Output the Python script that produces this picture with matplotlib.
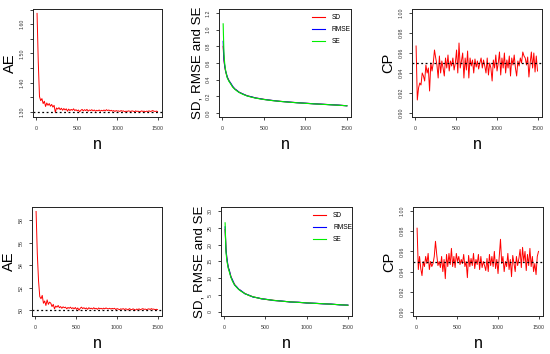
import numpy as np
import matplotlib
matplotlib.use("Agg")
import matplotlib.pyplot as plt
from matplotlib.ticker import FixedLocator, MultipleLocator

plt.rcParams['font.family'] = ['Liberation Sans Narrow', 'Liberation Sans', 'DejaVu Sans']

# ---------------- data ----------------
n = np.arange(10, 1501, 15)

ae_top = [1.637, 1.470, 1.352, 1.338, 1.345, 1.328, 1.336, 1.318, 1.330, 1.322,
          1.328, 1.319, 1.325, 1.316, 1.322, 1.298, 1.313, 1.309, 1.314, 1.307,
          1.312, 1.305, 1.311, 1.306, 1.310, 1.302, 1.309, 1.304, 1.308, 1.305,
          1.310, 1.304, 1.307, 1.303, 1.306, 1.300, 1.305, 1.308, 1.303, 1.307,
          1.304, 1.308, 1.302, 1.306, 1.304, 1.307, 1.303, 1.306, 1.302, 1.305,
          1.303, 1.306, 1.302, 1.305, 1.303, 1.306, 1.303, 1.307, 1.304, 1.306,
          1.303, 1.305, 1.302, 1.304, 1.301, 1.304, 1.302, 1.303, 1.301, 1.304,
          1.302, 1.303, 1.300, 1.302, 1.301, 1.303, 1.302, 1.301, 1.303, 1.302,
          1.300, 1.303, 1.301, 1.302, 1.300, 1.301, 1.303, 1.301, 1.302, 1.300,
          1.302, 1.301, 1.303, 1.301, 1.302, 1.304, 1.302, 1.301, 1.302, 1.301]

cp_top = [0.967, 0.913, 0.925, 0.930, 0.928, 0.940, 0.937, 0.932, 0.948, 0.940,
          0.945, 0.922, 0.950, 0.942, 0.950, 0.963, 0.955, 0.948, 0.935, 0.957,
          0.940, 0.952, 0.945, 0.937, 0.955, 0.945, 0.958, 0.942, 0.952, 0.947,
          0.955, 0.943, 0.950, 0.963, 0.940, 0.970, 0.945, 0.952, 0.960, 0.935,
          0.955, 0.943, 0.962, 0.935, 0.955, 0.947, 0.953, 0.940, 0.954, 0.946,
          0.952, 0.944, 0.950, 0.955, 0.945, 0.953, 0.947, 0.940, 0.955, 0.938,
          0.950, 0.945, 0.932, 0.953, 0.945, 0.958, 0.942, 0.950, 0.961, 0.938,
          0.955, 0.945, 0.960, 0.940, 0.953, 0.945, 0.957, 0.937, 0.955, 0.948,
          0.958, 0.945, 0.937, 0.952, 0.947, 0.955, 0.950, 0.961, 0.957, 0.955,
          0.948, 0.956, 0.936, 0.950, 0.961, 0.945, 0.960, 0.941, 0.957, 0.942]

ae_bot = [58.8, 55.0, 52.6, 51.2, 51.0, 51.3, 50.6, 50.8, 50.4, 50.9,
          50.5, 50.7, 50.6, 50.3, 50.5, 50.1, 50.35, 50.25, 50.4, 50.2,
          50.3, 50.15, 50.28, 50.2, 50.25, 50.1, 50.22, 50.15, 50.25, 50.12,
          50.2, 50.1, 50.22, 50.05, 50.18, 49.98, 50.15, 50.25, 50.12, 50.2,
          50.1, 50.18, 50.05, 50.2, 50.12, 50.16, 50.08, 50.2, 50.1, 50.15,
          50.05, 50.18, 50.1, 50.15, 50.08, 50.16, 50.1, 50.18, 50.12, 50.1,
          50.15, 50.08, 50.14, 50.1, 50.15, 50.03, 50.12, 50.08, 50.02, 50.1,
          50.06, 50.12, 50.04, 50.1, 50.07, 50.0, 50.12, 50.06, 50.02, 50.1,
          50.05, 49.98, 50.08, 50.04, 50.1, 50.02, 50.07, 50.12, 50.05, 50.08,
          50.03, 50.07, 50.1, 50.04, 50.12, 50.06, 50.08, 50.02, 50.06, 50.03]

cp_bot = [0.983, 0.942, 0.955, 0.943, 0.936, 0.950, 0.945, 0.955, 0.948, 0.958,
          0.942, 0.950, 0.945, 0.948, 0.955, 0.970, 0.957, 0.946, 0.950, 0.944,
          0.955, 0.940, 0.952, 0.933, 0.957, 0.945, 0.958, 0.947, 0.963, 0.945,
          0.955, 0.944, 0.958, 0.950, 0.955, 0.947, 0.952, 0.948, 0.957, 0.945,
          0.950, 0.934, 0.956, 0.945, 0.953, 0.946, 0.958, 0.943, 0.952, 0.947,
          0.957, 0.942, 0.955, 0.944, 0.950, 0.946, 0.941, 0.953, 0.940, 0.957,
          0.946, 0.955, 0.945, 0.960, 0.943, 0.952, 0.938, 0.955, 0.972, 0.948,
          0.955, 0.940, 0.950, 0.945, 0.958, 0.942, 0.952, 0.935, 0.956, 0.948,
          0.940, 0.955, 0.946, 0.953, 0.962, 0.944, 0.964, 0.950, 0.960, 0.941,
          0.957, 0.946, 0.963, 0.945, 0.955, 0.940, 0.948, 0.937, 0.955, 0.960]

n_s = [10, 20, 30, 40, 50, 60, 80, 100, 125, 150, 175, 200, 250, 300, 350, 400,
       450, 500, 600, 700, 800, 900, 1000, 1100, 1200, 1300, 1400, 1500]

sd_top = [0.80, 0.63, 0.55, 0.50, 0.46, 0.43, 0.39, 0.355, 0.315, 0.29, 0.27, 0.252,
          0.226, 0.207, 0.193, 0.181, 0.172, 0.164, 0.150, 0.140, 0.131, 0.124,
          0.117, 0.111, 0.105, 0.100, 0.094, 0.087]
rmse_top = [0.86, 0.64, 0.56, 0.50, 0.47, 0.43, 0.385, 0.36, 0.32, 0.288, 0.272, 0.249,
            0.228, 0.205, 0.195, 0.180, 0.173, 0.163, 0.151, 0.139, 0.132, 0.123,
            0.118, 0.110, 0.106, 0.099, 0.095, 0.086]
se_top = [1.07, 0.70, 0.58, 0.51, 0.46, 0.42, 0.38, 0.35, 0.31, 0.285, 0.265, 0.248,
          0.223, 0.204, 0.190, 0.179, 0.170, 0.162, 0.149, 0.139, 0.130, 0.123,
          0.116, 0.110, 0.104, 0.099, 0.093, 0.087]

sd_bot = [24.5, 19.0, 16.0, 14.3, 13.2, 12.3, 10.6, 9.3, 8.2, 7.4, 6.8, 6.3, 5.5,
          4.9, 4.5, 4.2, 3.95, 3.75, 3.45, 3.2, 3.0, 2.85, 2.7, 2.55, 2.45, 2.3, 2.15, 2.0]
rmse_bot = [25.3, 18.5, 16.3, 14.5, 13.0, 12.5, 10.4, 9.5, 8.0, 7.5, 6.7, 6.4, 5.4,
            5.0, 4.4, 4.25, 3.9, 3.8, 3.4, 3.25, 2.95, 2.9, 2.65, 2.6, 2.4, 2.35, 2.1, 2.05]
se_bot = [26.5, 18.0, 15.5, 14.0, 12.8, 12.0, 10.3, 9.1, 8.0, 7.3, 6.7, 6.2, 5.45,
          4.9, 4.5, 4.2, 3.95, 3.75, 3.45, 3.2, 3.0, 2.85, 2.7, 2.55, 2.45, 2.3, 2.15, 2.0]

true_ae_top = 1.30
true_ae_bot = 50
true_cp = 0.95

x_ticks = [0, 500, 1000, 1500]

# ---------------- figure ----------------
W, H = 550, 354
fig = plt.figure(figsize=(W / 100, H / 100), dpi=100)


def mk_axes(x0, x1, y0, y1):
    return fig.add_axes([x0 / W, 1 - y1 / H, (x1 - x0) / W, (y1 - y0) / H])


TICK_FS = 3.8


def style(ax, ylabel, yfs=10.5, ypad=2.5):
    ax.set_xlim(-40, 1550)
    ax.xaxis.set_major_locator(FixedLocator(x_ticks))
    for sp in ax.spines.values():
        sp.set_linewidth(0.7)
        sp.set_color('#222222')
    ax.tick_params(axis='both', which='both', direction='out', length=2.3,
                   width=0.6, color='#222222', labelsize=TICK_FS, labelcolor='#333333')
    ax.tick_params(axis='x', pad=4.5)
    ax.tick_params(axis='y', pad=3.5, labelrotation=90)
    for lab in ax.get_yticklabels():
        lab.set_verticalalignment('center')
    ax.set_xlabel('n', fontsize=11.5, labelpad=4)
    ax.set_ylabel(ylabel, fontsize=yfs, labelpad=ypad)


def ae_panel(ax, y, true, ylim, major, minor, fmt):
    ax.plot(n, y, color='#ff0000', lw=0.7)
    ax.axhline(true, color='black', lw=0.9, ls=(0, (1.5, 2)))
    ax.set_ylim(*ylim)
    ax.yaxis.set_major_locator(MultipleLocator(major))
    if minor:
        ax.yaxis.set_minor_locator(MultipleLocator(minor))
    ax.yaxis.set_major_formatter(fmt)


def sd_panel(ax, sd, rmse, se, ylim, major, fmt):
    ax.plot(n_s, sd, color='#ff0000', lw=0.8, label='SD')
    ax.plot(n_s, rmse, color='#0000ff', lw=0.8, label='RMSE')
    ax.plot(n_s, se, color='#00ee00', lw=0.8, label='SE')
    ax.set_ylim(*ylim)
    ax.yaxis.set_major_locator(MultipleLocator(major))
    ax.yaxis.set_major_formatter(fmt)
    ax.legend(loc='upper right', bbox_to_anchor=(1.0, 0.95), frameon=False,
              fontsize=4.8, handlelength=2.0, handletextpad=1.0,
              labelspacing=0.75, borderaxespad=0, borderpad=0)


# top row
ax = mk_axes(33, 162, 9, 117)
ae_panel(ax, ae_top, true_ae_top, (1.282, 1.652), 0.1, 0.05, '{x:.2f}')
style(ax, 'AE')

ax = mk_axes(219, 351, 9, 117)
sd_panel(ax, sd_top, rmse_top, se_top, (-0.048, 1.248), 0.2, '{x:.1f}')
style(ax, 'SD, RMSE and SE', yfs=9.6, ypad=2.0)

ax = mk_axes(412, 542, 9, 117)
ae_panel(ax, cp_top, true_cp, (0.896, 1.004), 0.02, None, '{x:.2f}')
style(ax, 'CP')

# bottom row
ax = mk_axes(32, 162, 207, 316)
ae_panel(ax, ae_bot, true_ae_bot, (49.46, 59.2), 2, None, '{x:.0f}')
style(ax, 'AE')

ax = mk_axes(221, 352, 207, 316)
sd_panel(ax, sd_bot, rmse_bot, se_bot, (-1.2, 31.2), 5, '{x:.0f}')
style(ax, 'SD, RMSE and SE', yfs=9.6, ypad=2.0)

ax = mk_axes(413, 543, 207, 316)
ae_panel(ax, cp_bot, true_cp, (0.896, 1.004), 0.02, None, '{x:.2f}')
style(ax, 'CP')

fig.savefig('out.png', dpi=100)
